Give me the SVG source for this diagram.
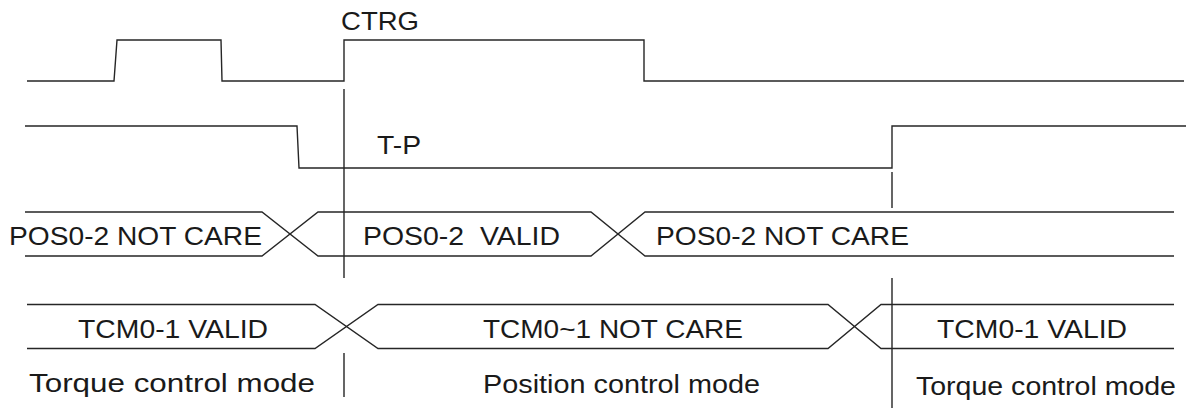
<svg xmlns="http://www.w3.org/2000/svg" width="1190" height="408" viewBox="0 0 1190 408">
<style>
.w{fill:none;stroke:#262626;stroke-width:1.4;stroke-linejoin:miter}
.t{font-family:"Liberation Sans",Arial,sans-serif;font-size:26.5px;fill:#1a1a1a;white-space:pre}
</style>
<rect width="1190" height="408" fill="#fff"/>
<g id="ctrg">
<path class="w" d="M27,81 H114 L117,40 H221 L222,81 H344 V40 H644 V81 H1184"/>
<text class="t" x="341" y="30" textLength="78" lengthAdjust="spacingAndGlyphs">CTRG</text>
</g>
<g id="tp">
<path class="w" d="M25,126 H297 L299,168 H892 V126 H1186"/>
<text class="t" x="377" y="154" textLength="44" lengthAdjust="spacingAndGlyphs">T-P</text>
</g>
<g id="pos">
<path class="w" d="M25,212 H262 L318,256 H591 L645,212 H1174"/>
<path class="w" d="M25,256 H262 L318,212 H591 L645,256 H1174"/>
<text class="t" x="9" y="245" textLength="253" lengthAdjust="spacingAndGlyphs">POS0-2 NOT CARE</text>
<text class="t" x="363" y="245" textLength="197" lengthAdjust="spacingAndGlyphs">POS0-2  VALID</text>
<text class="t" x="656" y="245" textLength="253" lengthAdjust="spacingAndGlyphs">POS0-2 NOT CARE</text>
</g>
<g id="tcm">
<path class="w" d="M27,304.5 H315 L378,348.5 H828 L881,304.5 H1174"/>
<path class="w" d="M27,348.5 H315 L378,304.5 H828 L881,348.5 H1174"/>
<text class="t" x="78" y="338" textLength="190" lengthAdjust="spacingAndGlyphs">TCM0-1 VALID</text>
<text class="t" x="483" y="338" textLength="260" lengthAdjust="spacingAndGlyphs">TCM0~1 NOT CARE</text>
<text class="t" x="937" y="338" textLength="190" lengthAdjust="spacingAndGlyphs">TCM0-1 VALID</text>
</g>
<g id="modes">
<text class="t" x="29" y="392" textLength="286" lengthAdjust="spacingAndGlyphs">Torque control mode</text>
<text class="t" x="483" y="393" textLength="277" lengthAdjust="spacingAndGlyphs">Position control mode</text>
<text class="t" x="916" y="395" textLength="260" lengthAdjust="spacingAndGlyphs">Torque control mode</text>
</g>
<g id="markers">
<path class="w" d="M344,89 V278 M344,353 V397 M892,172 V208 M892,278 V408"/>
</g>
</svg>
